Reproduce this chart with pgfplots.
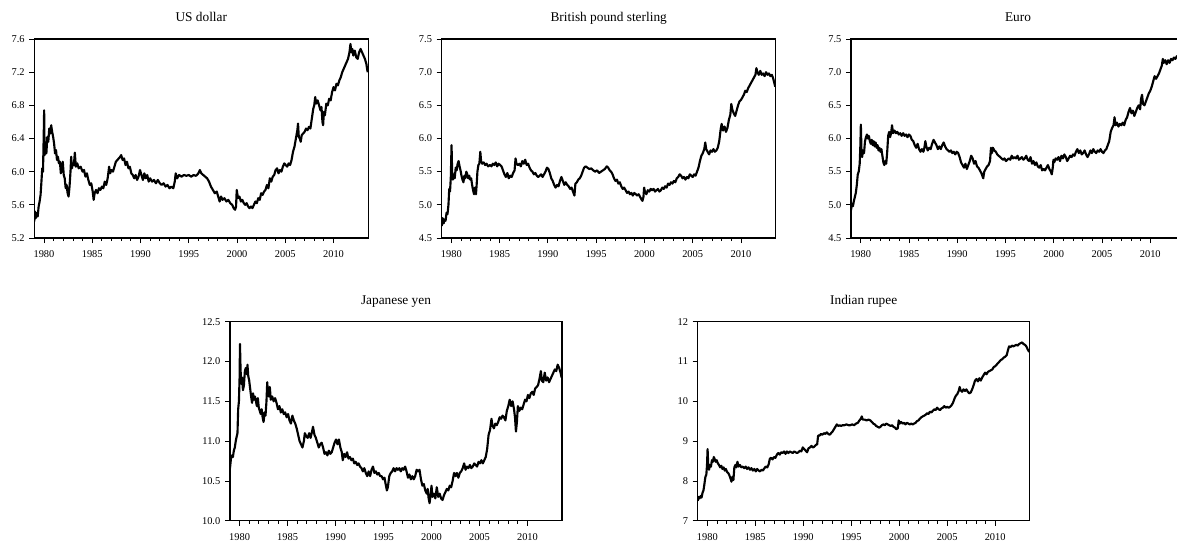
\documentclass[border=0pt]{standalone}
\usepackage{fontspec}
\setmainfont{Liberation Serif}
\usepackage{pgfplots}
\pgfplotsset{compat=1.18}
\pgfplotsset{
  panel/.style={
    scale only axis, width=250.5pt, height=149.25pt, anchor=south west,
    xmin=1979, xmax=2013.6,
    xtick={1980,1985,1990,1995,2000,2005,2010}, minor x tick num=4,
    tick align=outside, xtick pos=left, ytick pos=left,
    major tick length=3.75pt, minor tick length=2.25pt,
    axis line style={line width=0.8pt},
    every tick/.style={black, line width=0.6pt},
    /pgf/number format/assume math mode=true,
    tick label style={font=\fontsize{7.8}{9}\selectfont},
    x tick label style={/pgf/number format/1000 sep={}, yshift=-2.2pt},
    y tick label style={/pgf/number format/fixed, /pgf/number format/fixed zerofill, /pgf/number format/precision=1},
    title style={font=\fontsize{10}{12}\selectfont, at={(0.5,1)}, anchor=base, yshift=7.2pt},
  },
  ser/.style={black, line width=1.6pt, line join=round, no markers},
}
\begin{document}
\begin{tikzpicture}
\useasboundingbox (0,0) rectangle (882.75pt,408pt);
\clip (0,0) rectangle (882.75pt,408pt);
% US dollar
\begin{axis}[panel, at={(25.725pt,229.5pt)}, ymin=5.2, ymax=7.6, ytick={5.2,5.6,6.0,6.4,6.8,7.2,7.6}, title={US dollar}]
\addplot[ser] coordinates {
(1979.00,5.40)(1979.08,5.52)(1979.15,5.44)(1979.25,5.50)(1979.35,5.46)(1979.45,5.58)(1979.55,5.64)(1979.65,5.72)(1979.75,5.90)(1979.82,6.04)(1979.90,6.00)(1979.97,6.40)(1980.02,6.74)(1980.07,6.20)(1980.15,6.30)(1980.25,6.22)(1980.35,6.42)(1980.45,6.36)(1980.55,6.52)(1980.65,6.46)(1980.75,6.56)(1980.85,6.48)(1980.95,6.42)(1981.05,6.34)(1981.15,6.22)(1981.25,6.26)(1981.35,6.14)(1981.45,6.18)(1981.55,6.10)(1981.65,6.12)(1981.75,5.98)(1981.85,6.06)(1981.95,6.12)(1982.05,5.96)(1982.15,5.92)(1982.25,5.80)(1982.35,5.84)(1982.45,5.74)(1982.55,5.70)(1982.65,5.82)(1982.75,6.00)(1982.82,6.18)(1982.90,6.04)(1983.00,6.10)(1983.10,6.08)(1983.20,6.23)(1983.30,6.06)(1983.45,6.10)(1983.60,6.04)(1983.80,6.06)(1984.00,6.00)(1984.15,6.02)(1984.30,5.94)(1984.45,5.98)(1984.60,5.90)(1984.75,5.84)(1984.90,5.86)(1985.05,5.76)(1985.15,5.66)(1985.25,5.74)(1985.40,5.78)(1985.55,5.74)(1985.70,5.80)(1985.85,5.78)(1986.00,5.82)(1986.15,5.80)(1986.30,5.88)(1986.45,5.84)(1986.60,5.92)(1986.75,6.06)(1986.85,5.98)(1987.00,6.02)(1987.15,6.00)(1987.30,6.06)(1987.45,6.12)(1987.60,6.14)(1987.75,6.16)(1987.90,6.18)(1988.00,6.20)(1988.15,6.14)(1988.30,6.16)(1988.45,6.08)(1988.60,6.12)(1988.75,6.04)(1988.90,6.06)(1989.05,5.98)(1989.20,5.96)(1989.35,5.92)(1989.50,5.96)(1989.65,5.90)(1989.80,5.94)(1989.95,6.02)(1990.10,5.96)(1990.25,5.90)(1990.40,5.98)(1990.55,5.92)(1990.70,5.96)(1990.85,5.88)(1991.00,5.92)(1991.20,5.88)(1991.40,5.90)(1991.60,5.86)(1991.80,5.90)(1992.00,5.86)(1992.20,5.84)(1992.40,5.86)(1992.60,5.82)(1992.80,5.84)(1993.00,5.80)(1993.20,5.82)(1993.40,5.80)(1993.55,5.88)(1993.65,5.98)(1993.80,5.92)(1994.00,5.96)(1994.25,5.94)(1994.50,5.96)(1994.75,5.95)(1995.00,5.96)(1995.25,5.94)(1995.50,5.96)(1995.75,5.95)(1996.00,5.98)(1996.15,6.02)(1996.30,5.98)(1996.50,5.96)(1996.70,5.94)(1996.90,5.92)(1997.10,5.88)(1997.30,5.82)(1997.50,5.78)(1997.70,5.74)(1997.90,5.76)(1998.05,5.70)(1998.20,5.64)(1998.35,5.70)(1998.50,5.66)(1998.70,5.68)(1998.90,5.64)(1999.10,5.66)(1999.30,5.62)(1999.50,5.60)(1999.65,5.56)(1999.80,5.54)(1999.90,5.58)(1999.97,5.78)(2000.10,5.68)(2000.25,5.70)(2000.40,5.64)(2000.55,5.66)(2000.70,5.62)(2000.85,5.60)(2001.00,5.62)(2001.15,5.58)(2001.30,5.56)(2001.45,5.58)(2001.60,5.56)(2001.75,5.60)(2001.90,5.64)(2002.05,5.62)(2002.20,5.68)(2002.35,5.66)(2002.50,5.74)(2002.65,5.72)(2002.80,5.76)(2002.95,5.78)(2003.10,5.84)(2003.25,5.80)(2003.40,5.92)(2003.55,5.88)(2003.70,5.94)(2003.85,5.96)(2004.00,6.02)(2004.15,6.04)(2004.30,5.98)(2004.45,6.02)(2004.60,6.00)(2004.75,6.06)(2004.90,6.10)(2005.05,6.08)(2005.20,6.06)(2005.35,6.10)(2005.50,6.08)(2005.65,6.14)(2005.80,6.24)(2005.95,6.30)(2006.10,6.40)(2006.25,6.50)(2006.32,6.58)(2006.40,6.42)(2006.50,6.40)(2006.60,6.36)(2006.70,6.44)(2006.85,6.46)(2007.00,6.48)(2007.15,6.52)(2007.30,6.50)(2007.45,6.54)(2007.60,6.52)(2007.75,6.64)(2007.90,6.76)(2008.00,6.80)(2008.10,6.90)(2008.20,6.82)(2008.35,6.86)(2008.50,6.80)(2008.65,6.74)(2008.75,6.78)(2008.85,6.60)(2008.92,6.56)(2009.00,6.72)(2009.10,6.68)(2009.25,6.82)(2009.40,6.80)(2009.55,6.88)(2009.70,6.86)(2009.85,6.96)(2010.00,7.02)(2010.15,6.98)(2010.30,7.06)(2010.45,7.04)(2010.60,7.10)(2010.75,7.14)(2010.90,7.20)(2011.05,7.24)(2011.20,7.28)(2011.35,7.32)(2011.50,7.36)(2011.65,7.44)(2011.75,7.54)(2011.85,7.44)(2011.95,7.48)(2012.05,7.40)(2012.20,7.46)(2012.35,7.38)(2012.50,7.36)(2012.65,7.44)(2012.80,7.48)(2012.95,7.44)(2013.10,7.40)(2013.25,7.36)(2013.40,7.30)(2013.50,7.22)(2013.55,7.20)
};
\end{axis}
% British pound
\begin{axis}[panel, at={(331.275pt,229.5pt)}, ymin=4.5, ymax=7.5, ytick={4.5,5.0,5.5,6.0,6.5,7.0,7.5}, title={British pound sterling}]
\addplot[ser] coordinates {
(1979.00,4.68)(1979.10,4.80)(1979.20,4.72)(1979.30,4.78)(1979.40,4.76)(1979.50,4.88)(1979.60,4.86)(1979.70,5.00)(1979.78,5.24)(1979.86,5.20)(1979.94,5.40)(1980.02,5.90)(1980.08,5.50)(1980.15,5.38)(1980.25,5.46)(1980.35,5.40)(1980.45,5.56)(1980.55,5.52)(1980.65,5.62)(1980.75,5.66)(1980.85,5.58)(1980.95,5.52)(1981.05,5.44)(1981.15,5.38)(1981.25,5.34)(1981.35,5.44)(1981.45,5.40)(1981.55,5.50)(1981.65,5.46)(1981.75,5.40)(1981.85,5.44)(1981.95,5.38)(1982.05,5.40)(1982.15,5.30)(1982.25,5.22)(1982.35,5.16)(1982.45,5.26)(1982.55,5.16)(1982.62,5.30)(1982.70,5.50)(1982.80,5.60)(1982.90,5.62)(1983.00,5.80)(1983.08,5.66)(1983.20,5.62)(1983.35,5.64)(1983.50,5.60)(1983.65,5.62)(1983.80,5.58)(1984.00,5.60)(1984.15,5.58)(1984.30,5.62)(1984.45,5.60)(1984.60,5.64)(1984.75,5.58)(1984.90,5.62)(1985.05,5.60)(1985.20,5.58)(1985.35,5.52)(1985.50,5.46)(1985.65,5.42)(1985.80,5.48)(1985.95,5.40)(1986.10,5.44)(1986.25,5.42)(1986.40,5.48)(1986.55,5.52)(1986.65,5.70)(1986.75,5.62)(1986.90,5.60)(1987.05,5.62)(1987.20,5.58)(1987.35,5.66)(1987.50,5.62)(1987.65,5.68)(1987.80,5.60)(1987.95,5.62)(1988.10,5.56)(1988.25,5.52)(1988.40,5.50)(1988.55,5.46)(1988.70,5.48)(1988.85,5.44)(1989.00,5.42)(1989.15,5.44)(1989.30,5.46)(1989.45,5.42)(1989.60,5.46)(1989.75,5.50)(1989.90,5.56)(1990.05,5.54)(1990.20,5.48)(1990.35,5.40)(1990.50,5.36)(1990.65,5.30)(1990.80,5.26)(1990.95,5.30)(1991.10,5.28)(1991.25,5.36)(1991.40,5.42)(1991.55,5.36)(1991.70,5.30)(1991.85,5.34)(1992.00,5.30)(1992.15,5.28)(1992.30,5.24)(1992.45,5.26)(1992.60,5.20)(1992.75,5.14)(1992.85,5.32)(1993.00,5.34)(1993.15,5.38)(1993.30,5.40)(1993.45,5.44)(1993.60,5.50)(1993.75,5.56)(1993.90,5.58)(1994.10,5.56)(1994.30,5.54)(1994.50,5.55)(1994.70,5.52)(1994.90,5.50)(1995.10,5.52)(1995.30,5.48)(1995.50,5.50)(1995.70,5.52)(1995.90,5.54)(1996.10,5.58)(1996.25,5.56)(1996.40,5.52)(1996.55,5.50)(1996.70,5.46)(1996.85,5.40)(1997.00,5.36)(1997.15,5.38)(1997.30,5.32)(1997.45,5.34)(1997.60,5.28)(1997.75,5.24)(1997.90,5.26)(1998.05,5.22)(1998.20,5.18)(1998.35,5.20)(1998.50,5.16)(1998.65,5.18)(1998.80,5.14)(1998.95,5.18)(1999.10,5.16)(1999.25,5.14)(1999.40,5.16)(1999.55,5.12)(1999.70,5.08)(1999.80,5.06)(1999.90,5.12)(1999.97,5.26)(2000.05,5.20)(2000.20,5.16)(2000.35,5.22)(2000.50,5.20)(2000.65,5.24)(2000.80,5.22)(2000.95,5.24)(2001.10,5.20)(2001.25,5.22)(2001.40,5.24)(2001.55,5.20)(2001.70,5.22)(2001.85,5.26)(2002.00,5.24)(2002.15,5.28)(2002.30,5.26)(2002.45,5.32)(2002.60,5.30)(2002.75,5.34)(2002.90,5.32)(2003.05,5.36)(2003.20,5.34)(2003.35,5.40)(2003.50,5.42)(2003.65,5.46)(2003.80,5.44)(2003.95,5.40)(2004.10,5.42)(2004.25,5.38)(2004.40,5.42)(2004.55,5.40)(2004.70,5.46)(2004.85,5.44)(2005.00,5.42)(2005.15,5.46)(2005.30,5.44)(2005.45,5.50)(2005.60,5.56)(2005.75,5.66)(2005.90,5.74)(2006.05,5.78)(2006.20,5.84)(2006.30,5.94)(2006.40,5.84)(2006.55,5.80)(2006.70,5.76)(2006.85,5.82)(2007.00,5.80)(2007.15,5.84)(2007.30,5.80)(2007.45,5.82)(2007.60,5.86)(2007.75,5.96)(2007.90,6.14)(2008.00,6.22)(2008.15,6.12)(2008.30,6.18)(2008.45,6.10)(2008.60,6.16)(2008.75,6.28)(2008.90,6.36)(2009.00,6.52)(2009.10,6.44)(2009.25,6.38)(2009.40,6.34)(2009.55,6.42)(2009.70,6.50)(2009.85,6.56)(2010.00,6.58)(2010.15,6.62)(2010.30,6.66)(2010.45,6.72)(2010.60,6.70)(2010.75,6.76)(2010.90,6.80)(2011.05,6.84)(2011.20,6.88)(2011.35,6.92)(2011.50,6.96)(2011.60,7.06)(2011.70,7.00)(2011.85,6.96)(2012.00,7.02)(2012.15,6.96)(2012.30,6.98)(2012.45,6.94)(2012.60,7.00)(2012.75,6.96)(2012.90,6.98)(2013.05,6.94)(2013.20,6.96)(2013.35,6.90)(2013.45,6.84)(2013.55,6.78)
};
\end{axis}
% Euro
\begin{axis}[panel, at={(638.25pt,229.5pt)}, ymin=4.5, ymax=7.5, ytick={4.5,5.0,5.5,6.0,6.5,7.0,7.5}, title={Euro}]
\addplot[ser] coordinates {
(1979.00,4.92)(1979.10,5.02)(1979.20,4.98)(1979.30,5.06)(1979.40,5.12)(1979.50,5.18)(1979.60,5.30)(1979.70,5.46)(1979.80,5.50)(1979.90,5.62)(1979.97,5.90)(1980.02,6.21)(1980.08,5.84)(1980.15,5.72)(1980.25,5.82)(1980.35,5.78)(1980.45,5.96)(1980.55,6.02)(1980.65,6.06)(1980.75,6.00)(1980.85,6.04)(1980.95,5.96)(1981.05,5.92)(1981.15,5.98)(1981.25,5.90)(1981.35,5.96)(1981.45,5.88)(1981.55,5.94)(1981.65,5.86)(1981.75,5.90)(1981.85,5.82)(1981.95,5.86)(1982.05,5.80)(1982.15,5.84)(1982.25,5.74)(1982.35,5.64)(1982.45,5.60)(1982.55,5.66)(1982.65,5.62)(1982.75,5.80)(1982.85,6.04)(1982.95,6.10)(1983.05,6.02)(1983.15,6.08)(1983.25,6.20)(1983.35,6.08)(1983.50,6.12)(1983.65,6.08)(1983.80,6.10)(1983.95,6.06)(1984.10,6.08)(1984.25,6.04)(1984.40,6.08)(1984.55,6.04)(1984.70,6.06)(1984.85,6.02)(1985.00,6.06)(1985.15,6.04)(1985.30,5.98)(1985.45,5.96)(1985.60,5.90)(1985.75,5.86)(1985.90,5.92)(1986.05,5.84)(1986.20,5.80)(1986.35,5.84)(1986.50,5.80)(1986.60,5.86)(1986.70,5.96)(1986.80,5.88)(1986.95,5.82)(1987.10,5.86)(1987.25,5.84)(1987.40,5.92)(1987.55,5.98)(1987.70,5.94)(1987.85,5.90)(1988.00,5.84)(1988.15,5.88)(1988.30,5.84)(1988.45,5.90)(1988.60,5.94)(1988.75,5.88)(1988.90,5.84)(1989.05,5.82)(1989.20,5.80)(1989.35,5.82)(1989.50,5.78)(1989.65,5.80)(1989.80,5.76)(1989.95,5.80)(1990.10,5.78)(1990.25,5.72)(1990.40,5.64)(1990.55,5.60)(1990.70,5.56)(1990.85,5.62)(1991.00,5.54)(1991.15,5.60)(1991.30,5.66)(1991.45,5.74)(1991.60,5.70)(1991.75,5.62)(1991.90,5.66)(1992.05,5.58)(1992.20,5.56)(1992.35,5.52)(1992.50,5.48)(1992.60,5.44)(1992.70,5.40)(1992.80,5.50)(1992.95,5.54)(1993.10,5.58)(1993.25,5.60)(1993.40,5.66)(1993.50,5.86)(1993.60,5.78)(1993.70,5.86)(1993.85,5.82)(1994.00,5.80)(1994.15,5.76)(1994.30,5.74)(1994.45,5.72)(1994.60,5.70)(1994.75,5.68)(1994.90,5.70)(1995.05,5.66)(1995.20,5.68)(1995.35,5.70)(1995.50,5.68)(1995.65,5.74)(1995.80,5.70)(1995.95,5.72)(1996.10,5.70)(1996.25,5.74)(1996.40,5.68)(1996.55,5.70)(1996.70,5.72)(1996.85,5.68)(1997.00,5.70)(1997.15,5.74)(1997.30,5.68)(1997.45,5.66)(1997.60,5.72)(1997.75,5.62)(1997.90,5.66)(1998.05,5.60)(1998.20,5.64)(1998.35,5.58)(1998.50,5.56)(1998.65,5.60)(1998.80,5.52)(1998.95,5.54)(1999.10,5.52)(1999.25,5.56)(1999.40,5.60)(1999.55,5.54)(1999.70,5.50)(1999.80,5.46)(1999.90,5.56)(1999.97,5.68)(2000.05,5.64)(2000.20,5.70)(2000.35,5.68)(2000.50,5.72)(2000.65,5.66)(2000.80,5.74)(2000.95,5.70)(2001.10,5.76)(2001.25,5.72)(2001.40,5.66)(2001.55,5.70)(2001.70,5.74)(2001.85,5.72)(2002.00,5.76)(2002.15,5.74)(2002.30,5.80)(2002.45,5.84)(2002.60,5.78)(2002.75,5.82)(2002.90,5.76)(2003.05,5.78)(2003.20,5.82)(2003.35,5.76)(2003.50,5.72)(2003.65,5.76)(2003.80,5.82)(2003.95,5.78)(2004.10,5.84)(2004.25,5.80)(2004.40,5.78)(2004.55,5.82)(2004.70,5.80)(2004.85,5.84)(2005.00,5.80)(2005.15,5.78)(2005.30,5.82)(2005.45,5.84)(2005.60,5.90)(2005.75,5.96)(2005.90,6.10)(2006.05,6.16)(2006.20,6.20)(2006.30,6.32)(2006.40,6.20)(2006.55,6.24)(2006.70,6.18)(2006.85,6.22)(2007.00,6.20)(2007.15,6.24)(2007.30,6.20)(2007.45,6.28)(2007.60,6.32)(2007.75,6.40)(2007.90,6.46)(2008.05,6.38)(2008.20,6.42)(2008.35,6.34)(2008.50,6.40)(2008.65,6.46)(2008.80,6.50)(2008.95,6.44)(2009.05,6.60)(2009.15,6.66)(2009.25,6.52)(2009.40,6.50)(2009.55,6.56)(2009.70,6.62)(2009.85,6.68)(2010.00,6.72)(2010.15,6.78)(2010.30,6.86)(2010.45,6.94)(2010.60,6.90)(2010.75,6.94)(2010.90,6.98)(2011.05,7.04)(2011.20,7.10)(2011.30,7.20)(2011.40,7.14)(2011.55,7.18)(2011.70,7.12)(2011.85,7.18)(2012.00,7.14)(2012.15,7.20)(2012.30,7.18)(2012.45,7.22)(2012.60,7.20)(2012.75,7.24)(2012.90,7.22)(2013.10,7.26)(2013.30,7.24)(2013.50,7.26)
};
\end{axis}
% Japanese yen
\begin{axis}[panel, width=249pt, at={(172.5pt,17.475pt)}, ymin=10.0, ymax=12.5, ytick={10.0,10.5,11.0,11.5,12.0,12.5}, title={Japanese yen}]
\addplot[ser] coordinates {
(1979.00,10.66)(1979.10,10.78)(1979.20,10.82)(1979.30,10.80)(1979.40,10.88)(1979.50,10.92)(1979.60,11.00)(1979.70,11.06)(1979.78,11.10)(1979.85,11.40)(1979.93,11.50)(1980.00,11.80)(1980.04,12.22)(1980.10,11.90)(1980.17,11.72)(1980.25,11.80)(1980.35,11.64)(1980.45,11.70)(1980.55,11.88)(1980.65,11.92)(1980.75,11.84)(1980.82,11.96)(1980.90,11.82)(1981.00,11.76)(1981.10,11.66)(1981.20,11.56)(1981.30,11.48)(1981.40,11.60)(1981.50,11.52)(1981.60,11.56)(1981.70,11.50)(1981.80,11.44)(1981.90,11.54)(1982.00,11.42)(1982.10,11.38)(1982.20,11.34)(1982.30,11.40)(1982.40,11.30)(1982.50,11.24)(1982.60,11.36)(1982.70,11.32)(1982.80,11.50)(1982.88,11.74)(1982.95,11.60)(1983.05,11.56)(1983.15,11.68)(1983.25,11.52)(1983.40,11.56)(1983.55,11.50)(1983.70,11.54)(1983.85,11.48)(1984.00,11.40)(1984.15,11.44)(1984.30,11.36)(1984.45,11.40)(1984.60,11.34)(1984.75,11.36)(1984.90,11.30)(1985.05,11.34)(1985.20,11.26)(1985.35,11.22)(1985.50,11.32)(1985.65,11.26)(1985.80,11.22)(1985.95,11.16)(1986.10,11.08)(1986.25,11.00)(1986.40,10.96)(1986.55,10.92)(1986.70,11.00)(1986.80,11.10)(1986.95,11.06)(1987.10,11.04)(1987.25,11.10)(1987.40,11.04)(1987.55,11.12)(1987.65,11.18)(1987.80,11.08)(1987.95,11.04)(1988.10,10.98)(1988.25,10.92)(1988.40,10.96)(1988.55,10.98)(1988.70,10.92)(1988.85,10.84)(1989.00,10.86)(1989.15,10.82)(1989.30,10.88)(1989.45,10.84)(1989.60,10.86)(1989.75,10.92)(1989.90,10.98)(1990.05,11.02)(1990.20,10.96)(1990.35,11.02)(1990.50,10.92)(1990.65,10.86)(1990.75,10.76)(1990.90,10.84)(1991.05,10.80)(1991.20,10.86)(1991.35,10.78)(1991.50,10.80)(1991.65,10.76)(1991.80,10.78)(1991.95,10.72)(1992.10,10.74)(1992.25,10.70)(1992.40,10.72)(1992.55,10.68)(1992.70,10.66)(1992.85,10.62)(1993.00,10.66)(1993.15,10.60)(1993.30,10.56)(1993.45,10.62)(1993.60,10.56)(1993.75,10.64)(1993.90,10.68)(1994.05,10.60)(1994.20,10.62)(1994.35,10.58)(1994.50,10.60)(1994.65,10.56)(1994.80,10.56)(1994.95,10.52)(1995.10,10.54)(1995.25,10.44)(1995.35,10.38)(1995.45,10.42)(1995.60,10.56)(1995.75,10.60)(1995.90,10.62)(1996.05,10.66)(1996.20,10.62)(1996.35,10.66)(1996.50,10.64)(1996.65,10.66)(1996.80,10.62)(1996.95,10.66)(1997.10,10.64)(1997.25,10.68)(1997.40,10.62)(1997.55,10.54)(1997.70,10.58)(1997.85,10.52)(1998.00,10.56)(1998.15,10.52)(1998.30,10.56)(1998.45,10.64)(1998.60,10.62)(1998.75,10.64)(1998.90,10.52)(1999.05,10.44)(1999.20,10.46)(1999.35,10.38)(1999.50,10.34)(1999.60,10.40)(1999.70,10.28)(1999.80,10.22)(1999.90,10.32)(2000.00,10.44)(2000.10,10.30)(2000.25,10.34)(2000.40,10.28)(2000.55,10.42)(2000.70,10.30)(2000.85,10.34)(2001.00,10.28)(2001.15,10.26)(2001.30,10.32)(2001.45,10.36)(2001.60,10.40)(2001.75,10.38)(2001.90,10.44)(2002.05,10.42)(2002.20,10.50)(2002.35,10.60)(2002.50,10.56)(2002.65,10.60)(2002.80,10.54)(2002.95,10.60)(2003.10,10.62)(2003.25,10.66)(2003.40,10.72)(2003.55,10.64)(2003.70,10.68)(2003.85,10.66)(2004.00,10.70)(2004.15,10.66)(2004.30,10.68)(2004.45,10.72)(2004.60,10.70)(2004.75,10.68)(2004.90,10.74)(2005.05,10.72)(2005.20,10.76)(2005.35,10.72)(2005.50,10.76)(2005.65,10.80)(2005.80,10.90)(2005.95,11.08)(2006.10,11.14)(2006.25,11.28)(2006.35,11.20)(2006.50,11.16)(2006.65,11.22)(2006.80,11.20)(2006.95,11.24)(2007.10,11.30)(2007.25,11.28)(2007.40,11.32)(2007.55,11.30)(2007.70,11.26)(2007.85,11.38)(2008.00,11.44)(2008.15,11.52)(2008.30,11.44)(2008.45,11.50)(2008.60,11.40)(2008.70,11.30)(2008.80,11.12)(2008.90,11.24)(2009.00,11.44)(2009.15,11.38)(2009.30,11.42)(2009.45,11.40)(2009.60,11.46)(2009.75,11.52)(2009.90,11.50)(2010.05,11.58)(2010.20,11.54)(2010.35,11.60)(2010.50,11.62)(2010.65,11.58)(2010.80,11.66)(2010.95,11.68)(2011.10,11.70)(2011.25,11.78)(2011.40,11.88)(2011.50,11.76)(2011.65,11.74)(2011.80,11.86)(2011.95,11.76)(2012.10,11.80)(2012.25,11.74)(2012.40,11.78)(2012.55,11.82)(2012.70,11.86)(2012.85,11.90)(2013.00,11.88)(2013.15,11.96)(2013.30,11.92)(2013.45,11.86)(2013.55,11.80)
};
\end{axis}
% Indian rupee
\begin{axis}[panel, width=249pt, at={(523.275pt,17.475pt)}, ymin=7, ymax=12, ytick={7,8,9,10,11,12}, y tick label style={/pgf/number format/precision=0}, title={Indian rupee}]
\addplot[ser] coordinates {
(1979.00,7.50)(1979.10,7.60)(1979.20,7.56)(1979.30,7.62)(1979.40,7.58)(1979.50,7.70)(1979.60,7.76)(1979.70,7.92)(1979.80,8.10)(1979.90,8.16)(1979.97,8.40)(1980.03,8.80)(1980.10,8.38)(1980.18,8.28)(1980.28,8.40)(1980.38,8.36)(1980.48,8.52)(1980.58,8.48)(1980.68,8.60)(1980.78,8.54)(1980.88,8.48)(1980.98,8.52)(1981.10,8.44)(1981.22,8.40)(1981.34,8.34)(1981.46,8.38)(1981.58,8.30)(1981.70,8.34)(1981.82,8.26)(1981.94,8.30)(1982.06,8.22)(1982.18,8.20)(1982.30,8.14)(1982.42,8.06)(1982.52,7.98)(1982.62,8.10)(1982.72,8.02)(1982.82,8.34)(1982.92,8.40)(1983.02,8.34)(1983.14,8.48)(1983.26,8.36)(1983.40,8.40)(1983.55,8.34)(1983.70,8.36)(1983.85,8.32)(1984.00,8.36)(1984.15,8.30)(1984.30,8.34)(1984.45,8.28)(1984.60,8.32)(1984.75,8.26)(1984.90,8.30)(1985.05,8.24)(1985.20,8.30)(1985.35,8.26)(1985.50,8.24)(1985.65,8.28)(1985.80,8.26)(1985.95,8.32)(1986.10,8.36)(1986.25,8.34)(1986.40,8.42)(1986.52,8.56)(1986.65,8.58)(1986.80,8.54)(1986.95,8.60)(1987.10,8.58)(1987.25,8.66)(1987.40,8.70)(1987.55,8.66)(1987.70,8.72)(1987.85,8.70)(1988.00,8.74)(1988.15,8.68)(1988.30,8.74)(1988.45,8.70)(1988.60,8.74)(1988.75,8.72)(1988.90,8.70)(1989.05,8.74)(1989.20,8.72)(1989.35,8.70)(1989.50,8.72)(1989.65,8.76)(1989.80,8.74)(1989.95,8.84)(1990.10,8.80)(1990.25,8.76)(1990.40,8.72)(1990.55,8.82)(1990.70,8.84)(1990.85,8.88)(1991.00,8.84)(1991.15,8.86)(1991.30,8.90)(1991.45,8.92)(1991.55,9.14)(1991.70,9.14)(1991.85,9.18)(1992.00,9.16)(1992.15,9.20)(1992.30,9.18)(1992.45,9.22)(1992.60,9.18)(1992.75,9.16)(1992.90,9.20)(1993.05,9.24)(1993.20,9.30)(1993.35,9.36)(1993.50,9.42)(1993.65,9.38)(1993.80,9.40)(1993.95,9.38)(1994.10,9.40)(1994.30,9.40)(1994.50,9.42)(1994.70,9.40)(1994.90,9.40)(1995.10,9.42)(1995.30,9.40)(1995.50,9.44)(1995.70,9.46)(1995.85,9.52)(1996.00,9.56)(1996.10,9.62)(1996.20,9.54)(1996.40,9.54)(1996.60,9.52)(1996.80,9.54)(1997.00,9.52)(1997.15,9.48)(1997.30,9.44)(1997.45,9.42)(1997.60,9.38)(1997.75,9.36)(1997.90,9.34)(1998.05,9.36)(1998.20,9.40)(1998.35,9.42)(1998.50,9.40)(1998.65,9.44)(1998.80,9.42)(1998.95,9.40)(1999.10,9.38)(1999.25,9.40)(1999.40,9.36)(1999.55,9.34)(1999.70,9.30)(1999.85,9.32)(1999.95,9.52)(2000.05,9.44)(2000.20,9.48)(2000.35,9.44)(2000.50,9.46)(2000.65,9.42)(2000.80,9.46)(2000.95,9.44)(2001.10,9.42)(2001.25,9.44)(2001.40,9.42)(2001.55,9.44)(2001.70,9.46)(2001.85,9.50)(2002.00,9.52)(2002.15,9.56)(2002.30,9.60)(2002.45,9.62)(2002.60,9.64)(2002.75,9.66)(2002.90,9.70)(2003.05,9.68)(2003.20,9.74)(2003.35,9.72)(2003.50,9.76)(2003.65,9.80)(2003.80,9.78)(2003.95,9.84)(2004.10,9.80)(2004.25,9.78)(2004.40,9.82)(2004.55,9.84)(2004.70,9.88)(2004.85,9.84)(2005.00,9.86)(2005.15,9.84)(2005.30,9.86)(2005.45,9.90)(2005.60,9.96)(2005.75,10.06)(2005.90,10.14)(2006.05,10.18)(2006.20,10.26)(2006.30,10.36)(2006.40,10.28)(2006.55,10.24)(2006.70,10.30)(2006.85,10.26)(2007.00,10.30)(2007.15,10.24)(2007.30,10.20)(2007.45,10.22)(2007.60,10.30)(2007.75,10.40)(2007.90,10.52)(2008.05,10.56)(2008.20,10.50)(2008.35,10.58)(2008.50,10.52)(2008.65,10.60)(2008.80,10.66)(2008.95,10.72)(2009.10,10.68)(2009.25,10.74)(2009.40,10.76)(2009.55,10.78)(2009.70,10.80)(2009.85,10.86)(2010.00,10.88)(2010.15,10.92)(2010.30,10.96)(2010.45,11.00)(2010.60,11.04)(2010.75,11.06)(2010.90,11.10)(2011.05,11.12)(2011.20,11.16)(2011.35,11.30)(2011.45,11.38)(2011.60,11.36)(2011.75,11.40)(2011.90,11.38)(2012.05,11.40)(2012.20,11.42)(2012.35,11.40)(2012.50,11.44)(2012.65,11.46)(2012.80,11.48)(2012.95,11.44)(2013.10,11.42)(2013.25,11.38)(2013.40,11.30)(2013.55,11.24)
};
\end{axis}
\end{tikzpicture}
\end{document}
